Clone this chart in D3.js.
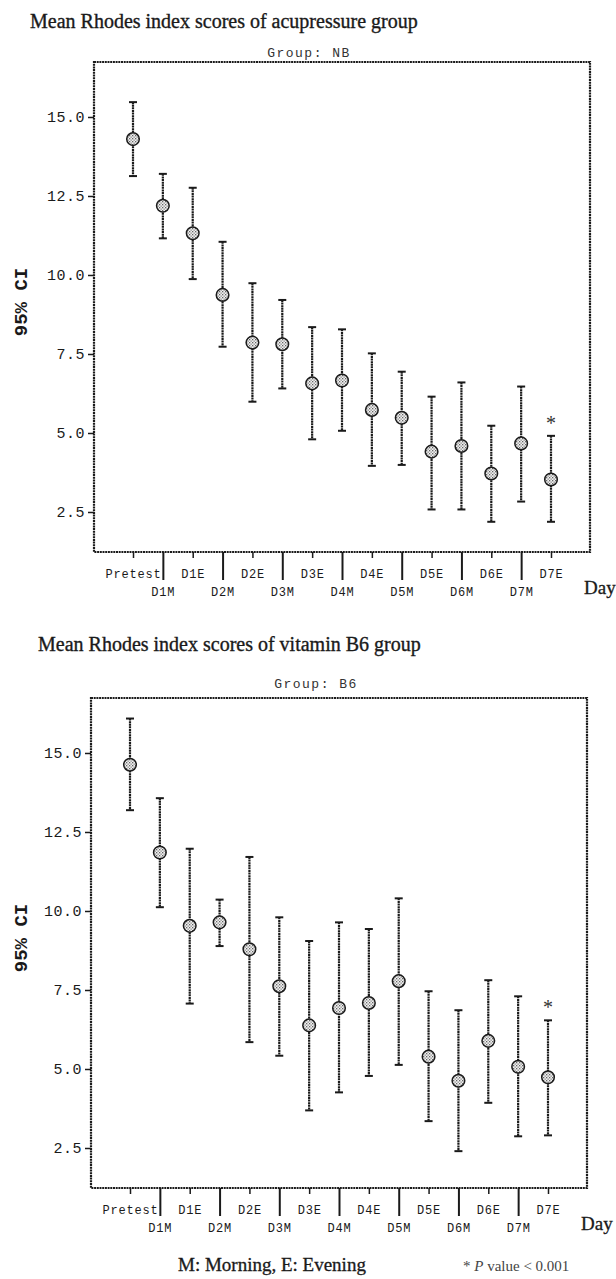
<!DOCTYPE html>
<html><head><meta charset="utf-8">
<script src="https://cdn.jsdelivr.net/npm/d3@7"></script>
<style>body{margin:0;background:#fff}svg{display:block}</style>
</head><body>
<svg id="c" width="616" height="1279"></svg>
<script>
const categories = ["Pretest","D1M","D1E","D2M","D2E","D3M","D3E","D4M","D4E","D5M","D5E","D6M","D6E","D7M","D7E"];
const yTicks = [2.5, 5.0, 7.5, 10.0, 12.5, 15.0];

const nbMean  = [14.30, 12.19, 11.32, 9.37, 7.86, 7.81, 6.57, 6.66, 5.73, 5.48, 4.41, 4.59, 3.72, 4.67, 3.53];
const nbUpper = [15.47, 13.20, 12.76, 11.05, 9.74, 9.21, 8.35, 8.28, 7.52, 6.94, 6.15, 6.60, 5.23, 6.47, 4.91];
const nbLower = [13.13, 11.16, 9.87, 7.73, 5.99, 6.41, 4.80, 5.07, 3.96, 3.99, 2.58, 2.58, 2.19, 2.83, 2.19];

const b6Mean  = [14.63, 11.85, 9.53, 9.64, 8.79, 7.62, 6.38, 6.93, 7.09, 7.78, 5.39, 4.63, 5.89, 5.07, 4.74];
const b6Upper = [16.09, 13.57, 11.97, 10.36, 11.71, 9.80, 9.05, 9.64, 9.43, 10.40, 7.46, 6.86, 7.81, 7.30, 6.54];
const b6Lower = [13.19, 10.12, 7.07, 8.89, 5.85, 5.42, 3.69, 4.26, 4.78, 5.13, 3.35, 2.40, 3.93, 2.87, 2.90];

const titles = ["Mean Rhodes index scores of acupressure group", "Mean Rhodes index scores of vitamin B6 group"];
const groups = ["Group:  NB", "Group:  B6"];
const significant = ["D7E"];

const svg = d3.select("#c");
const defs = svg.append("defs");
const pat = defs.append("pattern").attr("id","hatch").attr("patternUnits","userSpaceOnUse")
  .attr("width",3).attr("height",3);
pat.append("rect").attr("width",3).attr("height",3).attr("fill","#f2f2f2");
pat.append("rect").attr("x",0).attr("y",0).attr("width",1.3).attr("height",1.3).attr("fill","#666");
pat.append("rect").attr("x",1.5).attr("y",1.5).attr("width",1.3).attr("height",1.3).attr("fill","#888");

const serif = "'Liberation Serif','DejaVu Serif',serif";
const mono = "'Liberation Mono','DejaVu Sans Mono',monospace";
const ink = "#1a1a1a";

function panel(cfg){
  const {x0,x1,y0,y1,mean,upper,lower,title,group,titleX,titleY,groupX,groupY} = cfg;
  const g = svg.append("g");
  const x = d3.scalePoint().domain(categories).range([x0+39, x1-39]);
  const y = d3.scaleLinear().domain([1.234, 16.74]).range([y1, y0]);

  g.append("text").attr("x",titleX).attr("y",titleY).attr("font-family",serif)
    .attr("font-size",20).attr("fill",ink).attr("stroke",ink).attr("stroke-width",0.35).text(title);
  g.append("text").attr("x",groupX).attr("y",groupY).attr("font-family",mono)
    .attr("font-size",13).attr("letter-spacing",1.5).attr("text-anchor","middle").attr("fill","#333").text(group);

  const ya = g.append("g").attr("transform",`translate(${x0},0)`)
    .call(d3.axisLeft(y).tickValues(yTicks).tickFormat(d3.format(".1f")).tickSize(6).tickPadding(3));
  ya.select(".domain").remove();
  ya.selectAll("line").attr("stroke",ink).attr("stroke-width",1.5);
  ya.selectAll("text").attr("font-family",mono).attr("font-size",15).attr("letter-spacing",0.5).attr("fill",ink);

  const xa = g.append("g").attr("transform",`translate(0,${y1})`)
    .call(d3.axisBottom(x).tickSize(0).tickPadding(0));
  xa.select(".domain").remove();
  xa.selectAll(".tick line").attr("y2",(d,i)=> i%2 ? 28 : 6).attr("stroke",ink).attr("stroke-width",(d,i)=> i%2 ? 2 : 1.5);
  xa.selectAll(".tick text").attr("y",(d,i)=> i%2 ? 44 : 26)
    .attr("dy",0).attr("font-family",mono).attr("font-size",12).attr("letter-spacing",0.8).attr("fill",ink);

  g.append("rect").attr("x",x0).attr("y",y0).attr("width",x1-x0).attr("height",y1-y0)
    .attr("fill","none").attr("stroke",ink).attr("stroke-width",2.2).attr("stroke-dasharray","2,0.7");

  g.append("text").attr("transform",`translate(27,${(y0+y1)/2 - 5}) rotate(-90)`)
    .attr("text-anchor","middle").attr("font-family",mono).attr("font-weight","bold")
    .attr("font-size",19).attr("fill",ink).text("95% CI");

  g.append("text").attr("x",x1-6).attr("y",y1+42).attr("font-family",serif).attr("font-size",19)
    .attr("fill",ink).attr("stroke",ink).attr("stroke-width",0.3).text("Day");

  const pts = categories.map((c,i)=>({c,m:mean[i],u:upper[i],l:lower[i]}));
  const eb = g.append("g").selectAll("g").data(pts).join("g");
  eb.append("line").attr("x1",d=>x(d.c)).attr("x2",d=>x(d.c)).attr("y1",d=>y(d.u)).attr("y2",d=>y(d.l))
    .attr("stroke",ink).attr("stroke-width",2.2).attr("stroke-dasharray","2,0.6");
  eb.append("line").attr("x1",d=>x(d.c)-4).attr("x2",d=>x(d.c)+4).attr("y1",d=>y(d.u)).attr("y2",d=>y(d.u))
    .attr("stroke",ink).attr("stroke-width",2);
  eb.append("line").attr("x1",d=>x(d.c)-4).attr("x2",d=>x(d.c)+4).attr("y1",d=>y(d.l)).attr("y2",d=>y(d.l))
    .attr("stroke",ink).attr("stroke-width",2);
  eb.append("circle").attr("cx",d=>x(d.c)).attr("cy",d=>y(d.m)).attr("r",6.3)
    .attr("fill","url(#hatch)").attr("stroke",ink).attr("stroke-width",1.5);
  eb.filter(d=>significant.includes(d.c)).append("text").attr("x",d=>x(d.c)).attr("y",d=>y(d.u)-6)
    .attr("text-anchor","middle").attr("font-family",serif).attr("font-size",20).attr("fill","#333").text("*");
}

panel({x0:94,x1:590,y0:62,y1:552,mean:nbMean,upper:nbUpper,lower:nbLower,title:titles[0],group:groups[0],
  titleX:30,titleY:28,groupX:309,groupY:57});
panel({x0:91,x1:587,y0:698,y1:1188,mean:b6Mean,upper:b6Upper,lower:b6Lower,title:titles[1],group:groups[1],
  titleX:38,titleY:651,groupX:316,groupY:688});

svg.append("text").attr("x",178).attr("y",1271).attr("font-family",serif).attr("font-size",19).attr("fill",ink)
  .attr("stroke",ink).attr("stroke-width",0.3).text("M: Morning, E: Evening");
const pv = svg.append("text").attr("x",463).attr("y",1271).attr("font-family",serif).attr("font-size",15).attr("fill","#444");
pv.append("tspan").text("* ");
pv.append("tspan").attr("font-style","italic").text("P");
pv.append("tspan").text(" value < 0.001");
</script>
</body></html>
